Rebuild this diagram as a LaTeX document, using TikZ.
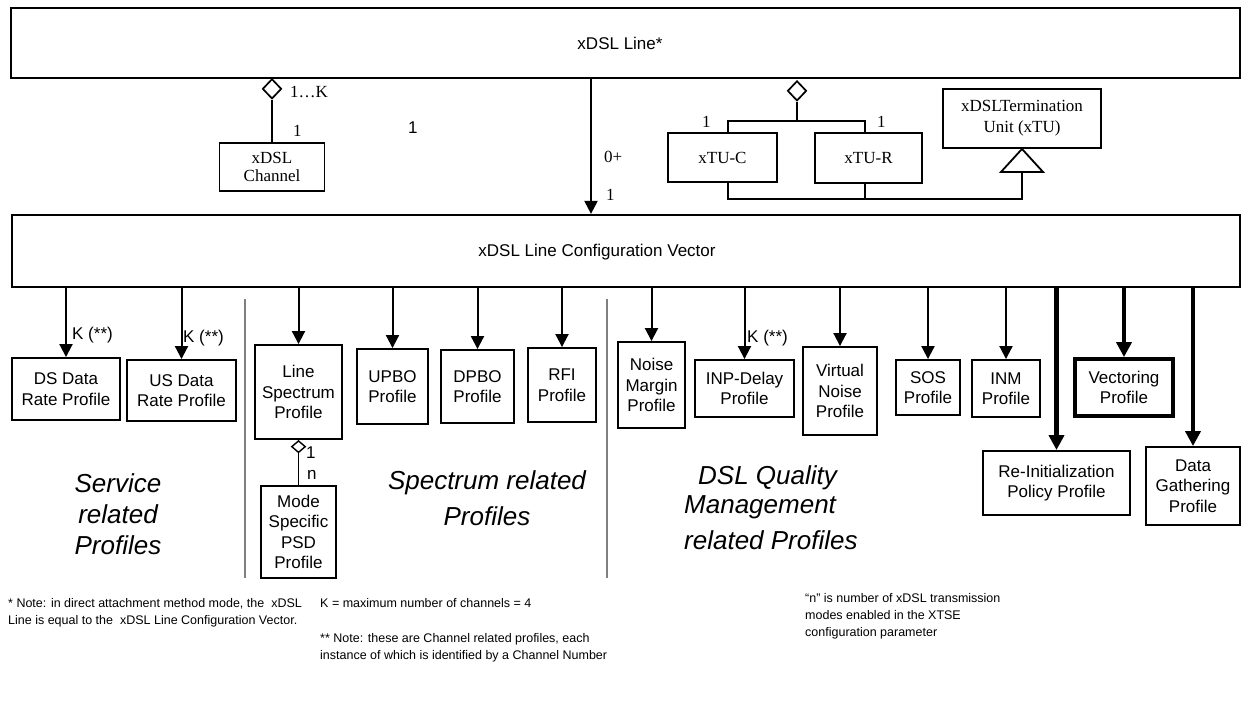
\documentclass[tikz,border=0pt]{standalone}
\usepackage{fontspec}
\setmainfont{Liberation Serif}
\setsansfont{Liberation Sans}
\usetikzlibrary{arrows.meta,shapes.geometric}
\begin{document}
\begin{tikzpicture}[x=1pt,y=-1pt,
  ln/.style={line width=1.8pt},
  box/.style={draw, line width=1.9pt, inner sep=0pt, align=center, font=\sffamily\fontsize{17}{20.5}\selectfont},
  sbox/.style={draw, line width=1.9pt, inner sep=0pt, align=center, font=\rmfamily\fontsize{17}{20}\selectfont},
  arr/.style={line width=2pt, -{Triangle[width=13pt,length=13pt]}},
  tarr/.style={line width=4.2pt, -{Triangle[width=15pt,length=15pt]}},
  sepline/.style={draw=gray, line width=1.8pt},
  lbl/.style={font=\sffamily\fontsize{17}{20}\selectfont, inner sep=0pt},
  slbl/.style={font=\rmfamily\fontsize{17}{20}\selectfont, inner sep=0pt},
  grp/.style={font=\sffamily\itshape\fontsize{26}{31}\selectfont, inner sep=0pt, align=center},
  note/.style={font=\sffamily\fontsize{12.5}{17}\selectfont, inner sep=0pt, align=left, anchor=north west},
  dia/.style={diamond, draw, fill=white, line width=1.7pt, inner sep=0pt},
]
\useasboundingbox (0,0) rectangle (1243,704);
% top boxes
\node[box, line width=2.2pt, minimum width=1229pt, minimum height=70pt] (line) at (625.5,43) {};
\node[lbl] (linet) at (620,43) {xDSL Line*};
\node[box, line width=2.2pt, minimum width=1228pt, minimum height=72pt] (cfg) at (626,251) {};
\node[lbl] (cfgt) at (597,252) {xDSL Line Configuration Vector};
% channel
\node[sbox, minimum width=105pt, minimum height=48pt, font=\rmfamily\fontsize{17}{18}\selectfont] (chan) at (272,167) {xDSL\\Channel};
\node[dia, minimum width=19pt, minimum height=20pt, anchor=north] (d1) at (272,78) {};
\draw[ln] (d1.south) -- (chan.north);
\node[slbl, anchor=west] (l1k) at (290,92) {1…K};
\node[slbl, anchor=west] (l1a) at (293,131) {1};
\node[lbl, anchor=west] (l1s) at (408,128) {1};
% arrow to cfg
\coordinate (a0) at (591,78);
\draw[arr] (a0) -- (a0 |- cfg.north);
\node[slbl, anchor=west] (l0p) at (604,157) {0+};
\node[slbl, anchor=west] (l1b) at (606,195) {1};
% xTU
\node[sbox, minimum width=109pt, minimum height=49pt] (xtuc) at (722.5,157.5) {xTU-C};
\node[sbox, minimum width=107pt, minimum height=50pt] (xtur) at (868.5,158) {xTU-R};
\node[sbox, minimum width=158pt, minimum height=59pt, font=\rmfamily\fontsize{17}{21}\selectfont] (xtu) at (1022,118.5) {xDSLTermination\\Unit (xTU)};
\node[dia, minimum width=19pt, minimum height=20pt, anchor=north] (d2) at (797,80) {};
\coordinate (bk) at (797,121);
\draw[ln] (d2.south) -- (bk);
\draw[ln] ([xshift=5.5pt]xtuc.north) |- (bk) -| ([xshift=-3.5pt]xtur.north);
\node[slbl, anchor=west] (l1c) at (702,122) {1};
\node[slbl, anchor=west] (l1d) at (877,122) {1};
\coordinate (tb) at ([yshift=-23pt]xtu.south);
\draw[ln] ([xshift=5.5pt]xtuc.south) -- ++(0,16) coordinate (bl) -| (tb);
\draw[ln] ([xshift=-3.5pt]xtur.south) -- ([xshift=-3.5pt]xtur.south |- bl);
\draw[ln, fill=white] (xtu.south) -- ([xshift=-21pt]tb) -- ([xshift=21pt]tb) -- cycle;
% lower boxes
\node[box, minimum width=108pt, minimum height=62pt] (ds) at (66,389) {DS Data\\Rate Profile};
\node[box, minimum width=109pt, minimum height=61pt] (us) at (181.5,390.5) {US Data\\Rate Profile};
\node[box, minimum width=87pt, minimum height=94pt] (ls) at (298.5,392) {Line\\Spectrum\\Profile};
\node[box, minimum width=71pt, minimum height=75pt] (upbo) at (392.5,386.5) {UPBO\\Profile};
\node[box, minimum width=73pt, minimum height=73pt] (dpbo) at (477.5,386.5) {DPBO\\Profile};
\node[box, minimum width=68pt, minimum height=74pt] (rfi) at (562,385) {RFI\\Profile};
\node[box, minimum width=67pt, minimum height=86pt] (nm) at (651.5,385) {Noise\\Margin\\Profile};
\node[box, minimum width=99pt, minimum height=57pt] (inp) at (744.5,388.5) {INP-Delay\\Profile};
\node[box, minimum width=74pt, minimum height=88pt] (vn) at (840,391) {Virtual\\Noise\\Profile};
\node[box, minimum width=64pt, minimum height=55pt] (sos) at (928,387.5) {SOS\\Profile};
\node[box, minimum width=68pt, minimum height=57pt] (inm) at (1006,388.5) {INM\\Profile};
\node[box, line width=3.8pt, minimum width=98pt, minimum height=57pt] (vec) at (1124,387.5) {Vectoring\\Profile};
\node[box, minimum width=147pt, minimum height=64pt] (ri) at (1056.5,483) {Re-Initialization\\Policy Profile};
\node[box, minimum width=94pt, minimum height=78pt] (dg) at (1193,486) {Data\\Gathering\\Profile};
\node[box, minimum width=75pt, minimum height=92pt] (ms) at (298.5,532) {Mode\\Specific\\PSD\\Profile};
% arrows from cfg
\foreach \n in {ds,us,ls,upbo,dpbo,rfi,nm,inp,vn,sos,inm}{
  \draw[arr] (\n.north |- cfg.south) -- (\n.north);
}
\foreach \n in {vec,ri,dg}{
  \draw[tarr] (\n.north |- cfg.south) -- (\n.north);
}
\node[lbl, anchor=west] (k1) at (72,335) {K (**)};
\node[lbl, anchor=west] (k2) at (183,338) {K (**)};
\node[lbl, anchor=west] (k3) at (747,338) {K (**)};
% line spectrum -> mode specific
\node[dia, minimum width=14pt, minimum height=12pt, line width=1.4pt, anchor=north] (d3) at (ls.south) {};
\draw[ln] (d3.south) -- (ms.north);
\node[lbl, anchor=west] (l1e) at (306,453) {1};
\node[lbl, anchor=west] (lne) at (307,475) {n};
% separators
\coordinate (s1t) at (245,299); \coordinate (s1b) at (245,578);
\coordinate (s2t) at (607,299); \coordinate (s2b) at (607,578);
\draw[sepline] (s1t) -- (s1b);
\draw[sepline] (s2t) -- (s2b);
% group labels
\node[grp, font=\sffamily\itshape\fontsize{26}{31}\selectfont] (gsv) at (118,514) {Service\\related\\Profiles};
\node[grp, font=\sffamily\itshape\fontsize{26}{36}\selectfont] (gsp) at (487,498) {Spectrum related\\Profiles};
\node[grp, anchor=west] (gq1) at (698,478) {DSL Quality};
\node[grp, anchor=west] (gq2) at (684,507) {Management};
\node[grp, anchor=west] (gq3) at (684,540) {related Profiles};
% notes
\node[note] (n1) at (8,598) {* Note: in direct attachment method mode, the\ \ xDSL\\Line is equal to the\ \ xDSL Line Configuration Vector.};
\node[note] (n2) at (320,598) {K = maximum number of channels = 4};
\node[note] (n3) at (320,633) {** Note: these are Channel related profiles, each\\instance of which is identified by a Channel Number};
\node[note] (n4) at (805,593) {“n” is number of xDSL transmission\\modes enabled in the XTSE\\configuration parameter};
\end{tikzpicture}
\end{document}
